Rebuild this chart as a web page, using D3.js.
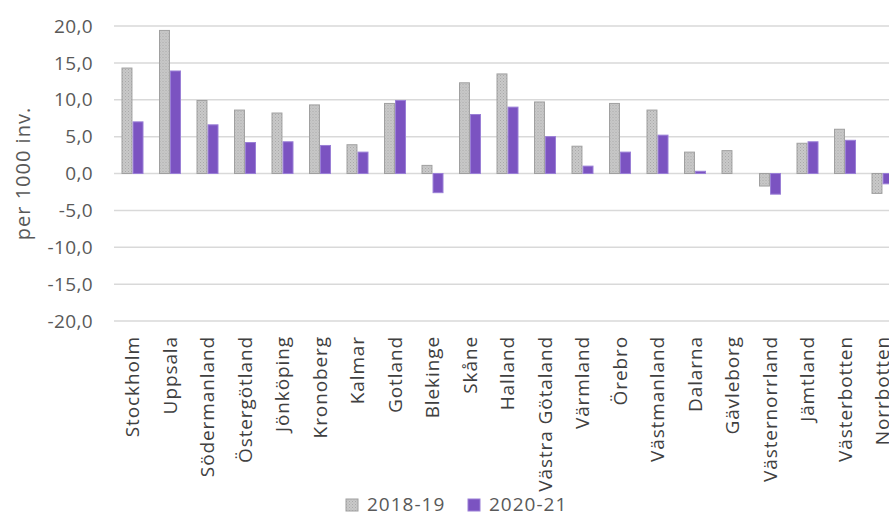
<!DOCTYPE html>
<html>
<head>
<meta charset="utf-8">
<script src="https://cdn.jsdelivr.net/npm/d3@7"></script>
<style>
  body { margin: 0; background: #fff; overflow: hidden; }
  svg { display: block; font-family: "Open Sans", sans-serif; }
</style>
</head>
<body>
<svg id="chart" width="889" height="518"></svg>
<script>
// regions (län)
const regions = ["Stockholm", "Uppsala", "Södermanland", "Östergötland", "Jönköping", "Kronoberg",
  "Kalmar", "Gotland", "Blekinge", "Skåne", "Halland", "Västra Götaland", "Värmland", "Örebro",
  "Västmanland", "Dalarna", "Gävleborg", "Västernorrland", "Jämtland", "Västerbotten", "Norrbotten"];

const series = ["2018-19", "2020-21"];

const values1819 = [14.3, 19.4, 9.9, 8.6, 8.2, 9.3, 3.9, 9.5, 1.1, 12.3, 13.5, 9.7, 3.7, 9.5, 8.6, 2.9, 3.1, -1.7, 4.1, 6.0, -2.7];
const values2021 = [7.0, 13.9, 6.6, 4.2, 4.3, 3.8, 2.9, 9.9, -2.6, 8.0, 9.0, 5.0, 1.0, 2.9, 5.2, 0.3, 0.0, -2.8, 4.3, 4.5, -1.4];

const yTicks = [-20, -15, -10, -5, 0, 5, 10, 15, 20];

let svg = d3.select("#chart");

// stippled fill for the grey bars
let defs = svg.append("defs");
let pat = defs.append("pattern")
  .attr("id", "dots")
  .attr("width", 3).attr("height", 3)
  .attr("patternUnits", "userSpaceOnUse");
pat.append("rect").attr("width", 3).attr("height", 3).attr("fill", "#c9c9c9");
pat.append("rect").attr("x", 0).attr("y", 0).attr("width", 1).attr("height", 1).attr("fill", "#a9a9a9");
pat.append("rect").attr("x", 1.5).attr("y", 1.5).attr("width", 1).attr("height", 1).attr("fill", "#b3b3b3");

let x = d3.scaleBand()
  .domain(regions)
  .range([113.75, 901.25])
  .paddingInner(0.44)
  .paddingOuter(0.22);

let xSub = d3.scaleBand()
  .domain(series)
  .range([0, x.bandwidth()])
  .paddingInner(0.1);

let y = d3.scaleLinear()
  .domain([-20, 20])
  .range([321, 26]);

// gridlines
svg.append("g")
  .selectAll("line")
  .data(yTicks)
  .enter()
  .append("line")
  .attr("x1", 114)
  .attr("x2", 889)
  .attr("y1", d => y(d))
  .attr("y2", d => y(d))
  .attr("stroke", "#d9d9d9")
  .attr("stroke-width", 1.5);

// y tick labels
svg.append("g")
  .selectAll("text")
  .data(yTicks)
  .enter()
  .append("text")
  .attr("x", 93)
  .attr("y", d => y(d))
  .attr("dy", "0.35em")
  .attr("text-anchor", "end")
  .attr("fill", "#595959")
  .style("font-size", "19px")
  .style("letter-spacing", "0.4px")
  .text(d => d3.format(".1f")(d).replace(".", ",").replace("−", "-"));

// y axis title
svg.append("text")
  .attr("transform", "translate(30," + y(0) + ") rotate(-90)")
  .attr("text-anchor", "middle")
  .attr("fill", "#595959")
  .style("font-size", "20px")
  .style("letter-spacing", "1px")
  .text("per 1000 inv.");

// bars
let rows = regions.map((r, i) => ({ region: r, vals: [values1819[i], values2021[i]] }));

let group = svg.append("g")
  .selectAll("g")
  .data(rows)
  .enter()
  .append("g")
  .attr("transform", d => "translate(" + x(d.region) + ",0)");

group.selectAll("rect")
  .data(d => d.vals.map((v, k) => ({ key: series[k], v: v })))
  .enter()
  .filter(d => d.v !== 0)
  .append("rect")
  .attr("x", d => xSub(d.key))
  .attr("width", xSub.bandwidth())
  .attr("y", d => y(Math.max(0, d.v)))
  .attr("height", d => Math.abs(y(d.v) - y(0)))
  .attr("fill", d => d.key === "2018-19" ? "url(#dots)" : "#7b53c1")
  .attr("stroke", d => d.key === "2018-19" ? "#a0a0a0" : "#9a7fd6")
  .attr("stroke-width", 1);

// x labels
svg.append("g")
  .selectAll("text")
  .data(regions)
  .enter()
  .append("text")
  .attr("transform", d => "translate(" + (x(d) + x.bandwidth() / 2) + ",336) rotate(-90)")
  .attr("dy", "0.35em")
  .attr("text-anchor", "end")
  .attr("fill", "#404040")
  .style("font-size", "19px")
  .style("letter-spacing", "0.9px")
  .text(d => d);

// legend
let legend = svg.append("g").attr("transform", "translate(346,504)");
series.forEach((s, i) => {
  let lx = i * 122;
  legend.append("rect")
    .attr("x", lx).attr("y", -5)
    .attr("width", 12).attr("height", 12)
    .attr("fill", i === 0 ? "url(#dots)" : "#7b53c1")
    .attr("stroke", i === 0 ? "#a0a0a0" : "#9a7fd6");
  legend.append("text")
    .attr("x", lx + 21)
    .attr("y", 0)
    .attr("dy", "0.35em")
    .attr("fill", "#595959")
    .style("font-size", "19px")
    .style("letter-spacing", "1px")
    .text(s);
});
</script>
</body>
</html>
